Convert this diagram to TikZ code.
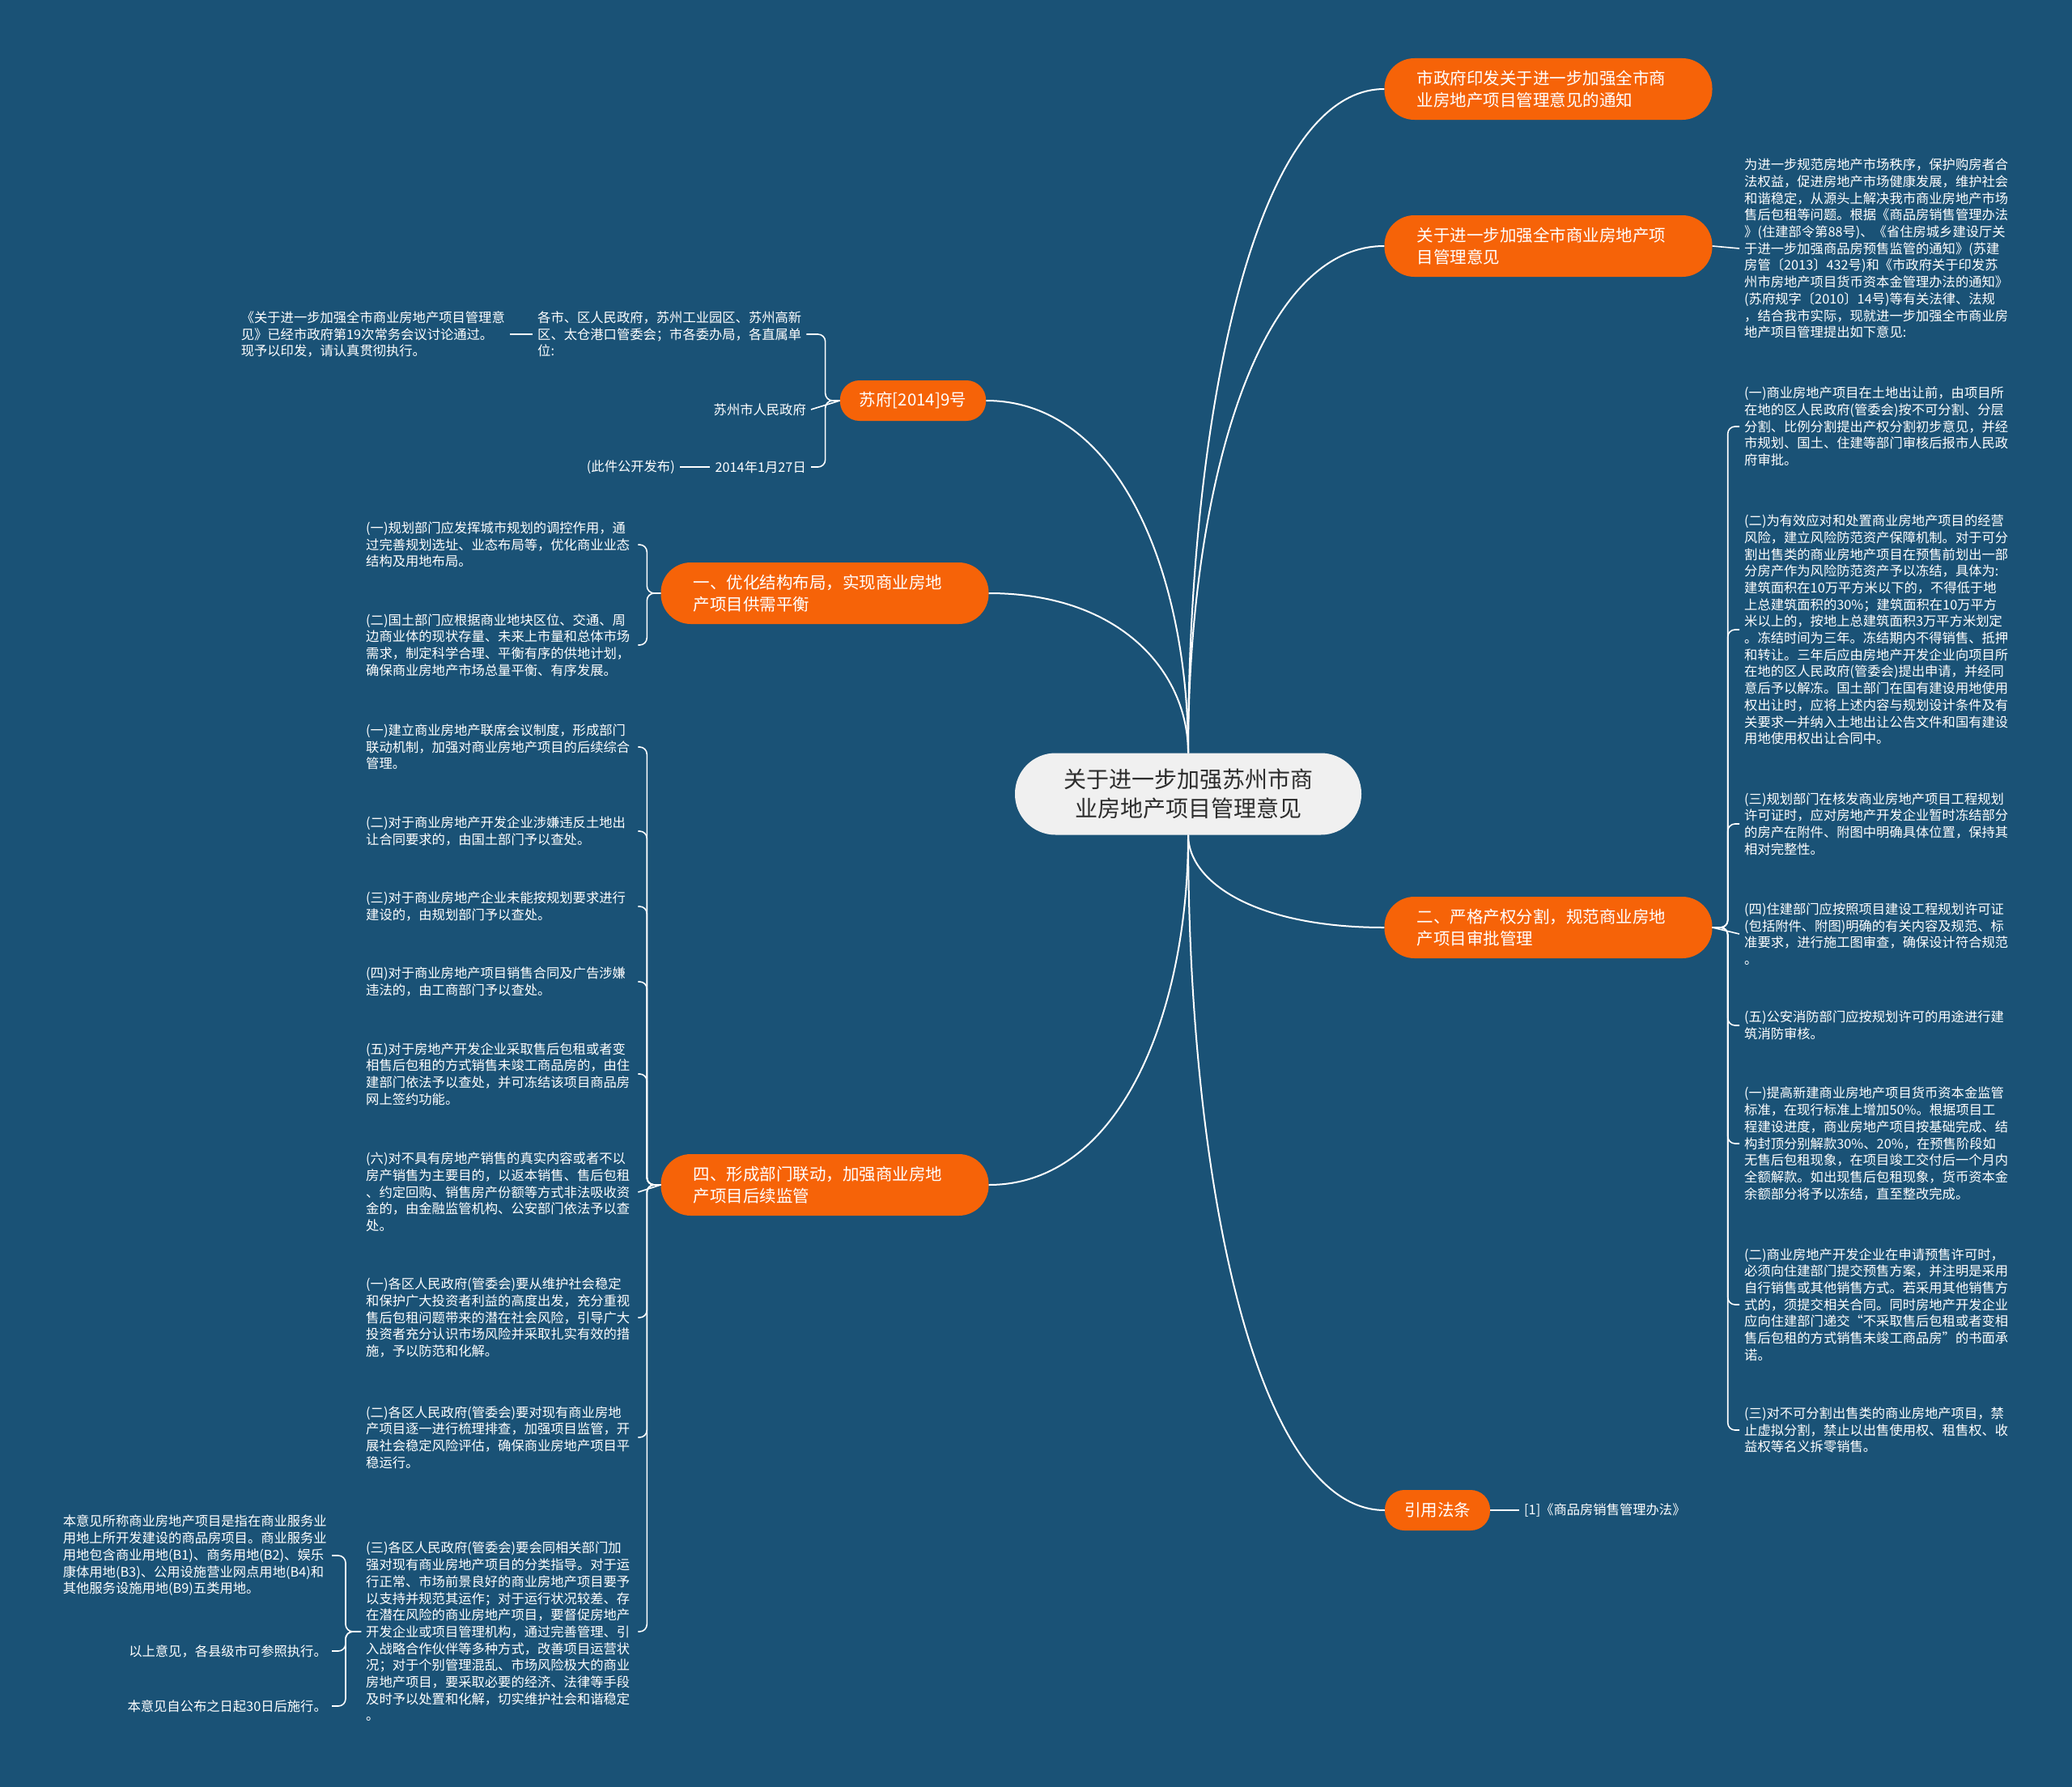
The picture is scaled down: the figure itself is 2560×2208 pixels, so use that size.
\documentclass[tikz,border=0pt]{standalone}
\usepackage{fontspec}
\setmainfont{Noto Sans CJK SC}
\usetikzlibrary{calc}
\definecolor{bgblue}{RGB}{26,82,118}
\definecolor{orng}{RGB}{246,99,8}
\definecolor{ctrfill}{RGB}{240,240,240}
\definecolor{ink}{RGB}{45,45,45}
\tikzset{
  maincurve/.style={draw=white, line width=2pt},
  leafline/.style={draw=white, line width=1.6pt, rounded corners=9pt},
  mmcurve/.style={to path={.. controls ($(\tikztostart)!0.5!(\tikztostart |- \tikztotarget)$) and ($(\tikztostart |- \tikztotarget)!0.3333!(\tikztotarget)$) .. (\tikztotarget)}},
  centernode/.style={fill=ctrfill, text=ink, rounded corners=50pt, minimum width=428pt, minimum height=101pt, align=center, font=\fontsize{28}{36}\selectfont},
  topic/.style={fill=orng, text=white, rounded corners=37pt, minimum height=76pt, text width=325pt, inner xsep=40pt, inner ysep=0pt, align=left, font=\fontsize{20.5}{27}\selectfont},
  topicsmall/.style={fill=orng, text=white, rounded corners=24pt, minimum height=50pt, inner xsep=24pt, inner ysep=0pt, font=\fontsize{20.5}{27}\selectfont},
  leaf/.style={text=white, inner xsep=6pt, inner ysep=3pt, align=left, font=\fontsize{16.3}{20.7}\selectfont},
  wide/.style={leaf, text width=330pt},
}
\begin{document}
\begin{tikzpicture}[x=1pt,y=-1pt]
\useasboundingbox (0,0) rectangle (2560,2208);
\fill[bgblue] (0,0) rectangle (2560,2208);

% center
\node[centernode] (c) at (1468,981) {关于进一步加强苏州市商\\业房地产项目管理意见};

% main topics
\node[topic] (t1) at (1913,110) {市政府印发关于进一步加强全市商\\业房地产项目管理意见的通知};
\node[topic] (t2) at (1913,304) {关于进一步加强全市商业房地产项\\目管理意见};
\node[topic] (t3) at (1913,1146) {二、严格产权分割，规范商业房地\\产项目审批管理};
\node[topicsmall] (cite) at (1776,1866) {引用法条};
\node[topicsmall] (sf) at (1128,495) {苏府[2014]9号};
\node[topic] (n1) at (1019,733) {一、优化结构布局，实现商业房地\\产项目供需平衡};
\node[topic] (n4) at (1019,1464) {四、形成部门联动，加强商业房地\\产项目后续监管};

% main curves
\draw[maincurve] (c.north) to[mmcurve] (t1.west);
\draw[maincurve] (c.north) to[mmcurve] (t2.west);
\draw[maincurve] (c.south) to[mmcurve] (t3.west);
\draw[maincurve] (c.south) to[mmcurve] (cite.west);
\draw[maincurve] (c.north) to[mmcurve] (sf.east);
\draw[maincurve] (c.north) to[mmcurve] (n1.east);
\draw[maincurve] (c.south) to[mmcurve] (n4.east);

% cite leaf
\node[leaf, anchor=west] (citeleaf) at (1877,1866) {[1]《商品房销售管理办法》};
\draw[leafline] (cite.east) -- (citeleaf.west);

% t2 leaf
\node[wide, anchor=west] (r0) at (2149,307) {为进一步规范房地产市场秩序，保护购房者合\\法权益，促进房地产市场健康发展，维护社会\\和谐稳定，从源头上解决我市商业房地产市场\\售后包租等问题。根据《商品房销售管理办法\\》(住建部令第88号)、《省住房城乡建设厅关\\于进一步加强商品房预售监管的通知》(苏建\\房管〔2013〕432号)和《市政府关于印发苏\\州市房地产项目货币资本金管理办法的通知》\\(苏府规字〔2010〕14号)等有关法律、法规\\，结合我市实际，现就进一步加强全市商业房\\地产项目管理提出如下意见:};
\draw[leafline] (t2.east) -- (r0.west);

% t3 leaves
\node[wide, anchor=west] (r1) at (2149,527) {(一)商业房地产项目在土地出让前，由项目所\\在地的区人民政府(管委会)按不可分割、分层\\分割、比例分割提出产权分割初步意见，并经\\市规划、国土、住建等部门审核后报市人民政\\府审批。};
\node[wide, anchor=west] (r2) at (2149,778) {(二)为有效应对和处置商业房地产项目的经营\\风险，建立风险防范资产保障机制。对于可分\\割出售类的商业房地产项目在预售前划出一部\\分房产作为风险防范资产予以冻结，具体为:\\建筑面积在10万平方米以下的，不得低于地\\上总建筑面积的30\%；建筑面积在10万平方\\米以上的，按地上总建筑面积3万平方米划定\\。冻结时间为三年。冻结期内不得销售、抵押\\和转让。三年后应由房地产开发企业向项目所\\在地的区人民政府(管委会)提出申请，并经同\\意后予以解冻。国土部门在国有建设用地使用\\权出让时，应将上述内容与规划设计条件及有\\关要求一并纳入土地出让公告文件和国有建设\\用地使用权出让合同中。};
\node[wide, anchor=west] (r3) at (2149,1018) {(三)规划部门在核发商业房地产项目工程规划\\许可证时，应对房地产开发企业暂时冻结部分\\的房产在附件、附图中明确具体位置，保持其\\相对完整性。};
\node[wide, anchor=west] (r4) at (2149,1154) {(四)住建部门应按照项目建设工程规划许可证\\(包括附件、附图)明确的有关内容及规范、标\\准要求，进行施工图审查，确保设计符合规范\\。};
\node[wide, anchor=west] (r5) at (2149,1267) {(五)公安消防部门应按规划许可的用途进行建\\筑消防审核。};
\node[wide, anchor=west] (r6) at (2149,1413) {(一)提高新建商业房地产项目货币资本金监管\\标准，在现行标准上增加50\%。根据项目工\\程建设进度，商业房地产项目按基础完成、结\\构封顶分别解款30\%、20\%，在预售阶段如\\无售后包租现象，在项目竣工交付后一个月内\\全额解款。如出现售后包租现象，货币资本金\\余额部分将予以冻结，直至整改完成。};
\node[wide, anchor=west] (r7) at (2149,1612) {(二)商业房地产开发企业在申请预售许可时，\\必须向住建部门提交预售方案，并注明是采用\\自行销售或其他销售方式。若采用其他销售方\\式的，须提交相关合同。同时房地产开发企业\\应向住建部门递交“不采取售后包租或者变相\\售后包租的方式销售未竣工商品房”的书面承\\诺。};
\node[wide, anchor=west] (r8) at (2149,1767) {(三)对不可分割出售类的商业房地产项目，禁\\止虚拟分割，禁止以出售使用权、租售权、收\\益权等名义拆零销售。};
\foreach \k in {r1,r2,r3,r5,r6,r7,r8}{
  \draw[leafline] (t3.east) -- ++(19,0) |- (\k.west);
}
\draw[leafline] (t3.east) -- (r4.west);

% sf leaves
\node[leaf, anchor=west] (sf1) at (658,413) {各市、区人民政府，苏州工业园区、苏州高新\\区、太仓港口管委会；市各委办局，各直属单\\位:};
\node[leaf, anchor=east] (sfa) at (630,413) {《关于进一步加强全市商业房地产项目管理意\\见》已经市政府第19次常务会议讨论通过。\\现予以印发，请认真贯彻执行。};
\node[leaf, anchor=east] (sf2) at (1002,506) {苏州市人民政府};
\node[leaf, anchor=east] (sf3) at (1002,577) {2014年1月27日};
\node[leaf, anchor=east] (sfc) at (840,577) {(此件公开发布)};
\draw[leafline] (sf.west) -- ++(-18,0) |- (sf1.east);
\draw[leafline] (sf.west) -- ++(-18,0) |- (sf3.east);
\draw[leafline] (sf.west) -- (sf2.east);
\draw[leafline] (sf1.west) -- (sfa.east);
\draw[leafline] (sf3.west) -- (sfc.east);

% n1 leaves
\node[wide, anchor=west] (l11) at (446,673) {(一)规划部门应发挥城市规划的调控作用，通\\过完善规划选址、业态布局等，优化商业业态\\结构及用地布局。};
\node[wide, anchor=west] (l12) at (446,797) {(二)国土部门应根据商业地块区位、交通、周\\边商业体的现状存量、未来上市量和总体市场\\需求，制定科学合理、平衡有序的供地计划，\\确保商业房地产市场总量平衡、有序发展。};
\draw[leafline] (n1.west) -- ++(-17,0) |- (l11.east);
\draw[leafline] (n1.west) -- ++(-17,0) |- (l12.east);

% n4 leaves
\node[wide, anchor=west] (l41) at (446,923) {(一)建立商业房地产联席会议制度，形成部门\\联动机制，加强对商业房地产项目的后续综合\\管理。};
\node[wide, anchor=west] (l42) at (446,1027) {(二)对于商业房地产开发企业涉嫌违反土地出\\让合同要求的，由国土部门予以查处。};
\node[wide, anchor=west] (l43) at (446,1120) {(三)对于商业房地产企业未能按规划要求进行\\建设的，由规划部门予以查处。};
\node[wide, anchor=west] (l44) at (446,1213) {(四)对于商业房地产项目销售合同及广告涉嫌\\违法的，由工商部门予以查处。};
\node[wide, anchor=west] (l45) at (446,1327) {(五)对于房地产开发企业采取售后包租或者变\\相售后包租的方式销售未竣工商品房的，由住\\建部门依法予以查处，并可冻结该项目商品房\\网上签约功能。};
\node[wide, anchor=west] (l46) at (446,1473) {(六)对不具有房地产销售的真实内容或者不以\\房产销售为主要目的，以返本销售、售后包租\\、约定回购、销售房产份额等方式非法吸收资\\金的，由金融监管机构、公安部门依法予以查\\处。};
\node[wide, anchor=west] (l47) at (446,1628) {(一)各区人民政府(管委会)要从维护社会稳定\\和保护广大投资者利益的高度出发，充分重视\\售后包租问题带来的潜在社会风险，引导广大\\投资者充分认识市场风险并采取扎实有效的措\\施，予以防范和化解。};
\node[wide, anchor=west] (l48) at (446,1776) {(二)各区人民政府(管委会)要对现有商业房地\\产项目逐一进行梳理排查，加强项目监管，开\\展社会稳定风险评估，确保商业房地产项目平\\稳运行。};
\node[wide, anchor=west] (l49) at (446,2016) {(三)各区人民政府(管委会)要会同相关部门加\\强对现有商业房地产项目的分类指导。对于运\\行正常、市场前景良好的商业房地产项目要予\\以支持并规范其运作；对于运行状况较差、存\\在潜在风险的商业房地产项目，要督促房地产\\开发企业或项目管理机构，通过完善管理、引\\入战略合作伙伴等多种方式，改善项目运营状\\况；对于个别管理混乱、市场风险极大的商业\\房地产项目，要采取必要的经济、法律等手段\\及时予以处置和化解，切实维护社会和谐稳定\\。};
\foreach \k in {l41,l42,l43,l44,l45,l47,l48,l49}{
  \draw[leafline] (n4.west) -- ++(-17,0) |- (\k.east);
}
\draw[leafline] (n4.west) -- (l46.east);

% l49 leaves
\node[leaf, anchor=east] (b1) at (410,1922) {本意见所称商业房地产项目是指在商业服务业\\用地上所开发建设的商品房项目。商业服务业\\用地包含商业用地(B1)、商务用地(B2)、娱乐\\康体用地(B3)、公用设施营业网点用地(B4)和\\其他服务设施用地(B9)五类用地。};
\node[leaf, anchor=east] (b2) at (410,2040) {以上意见，各县级市可参照执行。};
\node[leaf, anchor=east] (b3) at (410,2108) {本意见自公布之日起30日后施行。};
\foreach \k in {b1,b2,b3}{
  \draw[leafline] (l49.west) -- ++(-19,0) |- (\k.east);
}
\end{tikzpicture}
\end{document}
